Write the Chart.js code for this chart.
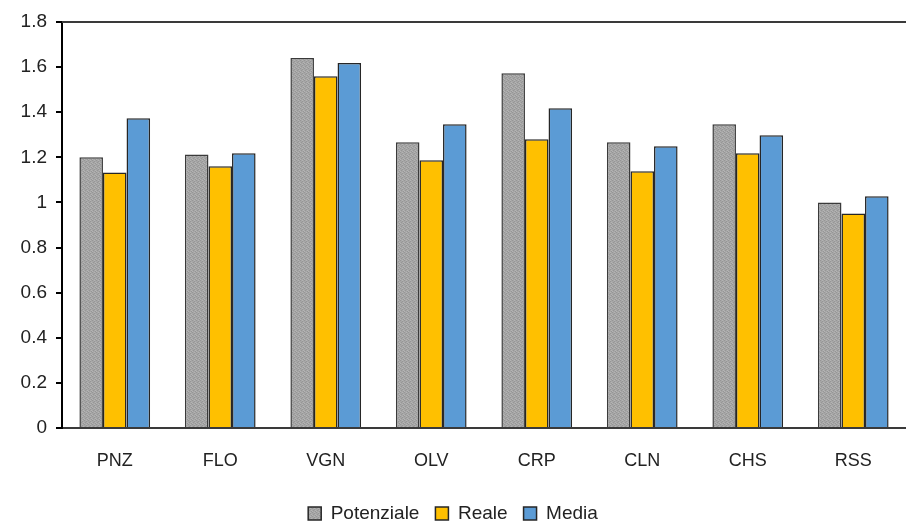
<!DOCTYPE html>
<html>
<head>
<meta charset="utf-8">
<script src="https://cdn.jsdelivr.net/npm/chart.js@4/dist/chart.umd.min.js"></script>
<style>
  html, body { margin: 0; padding: 0; background: #fff; }
  #wrap { width: 906px; height: 523px; position: relative; }
</style>
</head>
<body>
<div id="wrap"><canvas id="chart"></canvas></div>
<script>
const categories = ['PNZ', 'FLO', 'VGN', 'OLV', 'CRP', 'CLN', 'CHS', 'RSS'];
const potenziale = [1.20, 1.213, 1.64, 1.267, 1.573, 1.267, 1.347, 1.00];
const reale = [1.133, 1.16, 1.56, 1.187, 1.28, 1.138, 1.218, 0.951];
const media = [1.373, 1.218, 1.618, 1.347, 1.418, 1.249, 1.298, 1.027];
const yTicks = [0, 0.2, 0.4, 0.6, 0.8, 1, 1.2, 1.4, 1.6, 1.8];

// speckled grey fill like the Excel texture
function greyPattern() {
    const c = document.createElement('canvas');
    c.width = 4; c.height = 4;
    const g = c.getContext('2d');
    g.fillStyle = '#a6a6a6';
    g.fillRect(0, 0, 4, 4);
    g.fillStyle = '#969696';
    g.fillRect(0, 0, 1, 1); g.fillRect(2, 1, 1, 1); g.fillRect(1, 2, 1, 1); g.fillRect(3, 3, 1, 1);
    g.fillStyle = '#b4b4b4';
    g.fillRect(2, 0, 1, 1); g.fillRect(0, 3, 1, 1); g.fillRect(3, 2, 1, 1);
    return g.createPattern(c, 'repeat');
}

const topLine = {
    id: 'topLine',
    afterDraw(chart) {
        const { ctx, chartArea } = chart;
        ctx.save();
        ctx.strokeStyle = '#3a3a3a';
        ctx.lineWidth = 2;
        ctx.beginPath();
        ctx.moveTo(chartArea.left, chartArea.top);
        ctx.lineTo(chartArea.right, chartArea.top);
        ctx.stroke();
        ctx.restore();
    }
};

const family = 'Liberation Sans, Arial, sans-serif';

const data = {
    labels: categories,
    datasets: [
        { label: 'Potenziale', data: potenziale, backgroundColor: greyPattern(), borderColor: '#3a3a3a', borderWidth: 1.5 },
        { label: 'Reale', data: reale, backgroundColor: '#FFC000', borderColor: '#262626', borderWidth: 1.5 },
        { label: 'Media', data: media, backgroundColor: '#5B9BD5', borderColor: '#262626', borderWidth: 1.5 }
    ]
};

new Chart(document.getElementById('chart'), {
    type: 'bar',
    data,
    plugins: [topLine],
    options: {
        responsive: true,
        maintainAspectRatio: false,
        animation: false,
        layout: { padding: { top: 22, right: 0, left: 0, bottom: -10 } },
        categoryPercentage: 0.67,
        barPercentage: 1.0,
        plugins: {
            tooltip: { enabled: false },
            legend: {
                position: 'bottom',
                labels: {
                    color: '#222',
                    font: { family, size: 19 },
                    boxWidth: 13,
                    boxHeight: 13,
                    padding: 16,
                    generateLabels(chart) {
                        return chart.data.datasets.map((ds, i) => ({
                            text: ds.label,
                            fillStyle: ds.backgroundColor,
                            strokeStyle: '#262626',
                            lineWidth: 1.5,
                            datasetIndex: i,
                            fontColor: '#222'
                        }));
                    }
                }
            }
        },
        scales: {
            x: {
                grid: { display: false, drawTicks: false },
                border: { display: true, color: '#3a3a3a', width: 2 },
                ticks: { color: '#222', font: { family, size: 18 }, padding: 22 },
                afterFit(scale) { scale.height = 60; }
            },
            y: {
                min: 0,
                max: 1.8,
                afterBuildTicks(scale) { scale.ticks = yTicks.map(v => ({ value: v })); },
                afterFit(scale) { scale.width = 62; },
                grid: { drawOnChartArea: false, drawTicks: true, tickLength: 6, color: '#000', lineWidth: 2 },
                border: { display: true, color: '#000', width: 2 },
                ticks: {
                    color: '#222',
                    font: { family, size: 19 },
                    padding: 9,
                    callback: v => String(+v.toFixed(1))
                }
            }
        }
    }
});
</script>
</body>
</html>
